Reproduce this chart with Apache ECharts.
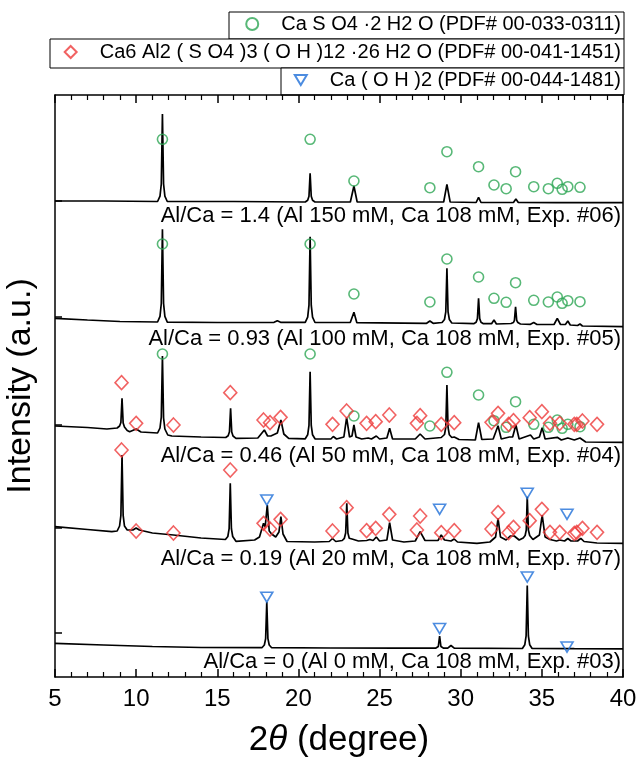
<!DOCTYPE html>
<html>
<head>
<meta charset="utf-8">
<script src="https://cdn.jsdelivr.net/npm/echarts@6/dist/echarts.min.js"></script>
<style>
html,body{margin:0;padding:0;background:#fff;}
#chart{width:640px;height:761px;}
</style>
</head>
<body>
<div id="chart"></div>
<script>
// ---- Data (2θ in degrees, intensity in stacked arbitrary units) ----
const traceNames = [
  'Al/Ca = 1.4 (Al 150 mM, Ca 108 mM, Exp. #06)',
  'Al/Ca = 0.93 (Al 100 mM, Ca 108 mM, Exp. #05)',
  'Al/Ca = 0.46 (Al 50 mM, Ca 108 mM, Exp. #04)',
  'Al/Ca = 0.19 (Al 20 mM, Ca 108 mM, Exp. #07)',
  'Al/Ca = 0 (Al 0 mM, Ca 108 mM, Exp. #03)'
];

const exp06 = [[5,476],[8,476],[11.32,475.5],[11.47,480.8],[11.55,493],[11.62,563],[11.69,493],[11.77,480.8],[11.92,475.5],[16,475.5],[20.42,475],[20.57,476.7],[20.65,480.7],[20.72,503.7],[20.79,480.7],[20.87,476.7],[21.02,475],[23.2,475],[23.42,491],[23.62,475],[28.95,475],[29.15,492.7],[29.35,475],[30.95,474.5],[31.1,479.7],[31.25,474.5],[32.0,474.5],[32.1,476],[32.2,474.5],[33.25,474.5],[33.4,478],[33.55,474.5],[35.9,474.3],[36.0,475.5],[36.1,474.3],[36.55,474.3],[36.65,475.2],[36.75,474.3],[40,474.3]];

const exp05 = [[5,358.7],[7,357],[9,355.5],[11.32,355],[11.47,360.6],[11.55,373.5],[11.62,447.7],[11.69,373.5],[11.77,360.6],[11.92,354.8],[15,354.5],[18.5,354.7],[18.7,356.3],[18.9,354.7],[20.42,354.7],[20.57,359.8],[20.65,371.8],[20.72,440.3],[20.79,371.8],[20.87,359.8],[21.02,354.5],[23.2,354.7],[23.42,364.7],[23.6,354.3],[27.9,353.7],[28.1,356],[28.3,353.7],[28.85,354.5],[29.0,357.5],[29.08,365.2],[29.15,408.7],[29.22,365.2],[29.3,357.5],[29.45,354],[30.8,353.3],[30.95,354.8],[31.03,358.4],[31.1,378.7],[31.17,358.4],[31.25,354.8],[31.4,353.3],[31.9,353.3],[32.05,357],[32.2,353],[33.1,353.5],[33.25,354.5],[33.31,356.7],[33.38,370.3],[33.45,356.7],[33.52,354.5],[33.68,353],[34.3,352.7],[34.5,354.5],[34.7,352.5],[35.75,352.5],[35.95,358.7],[36.15,352.5],[36.45,352.5],[36.6,356],[36.75,352],[37.2,351.5],[37.35,353],[37.5,351],[40,350.3]];

const exp04 = [[5,251],[7,249.5],[8.2,248],[8.83,249],[8.98,251],[9.06,254.5],[9.13,278.7],[9.2,254],[9.28,250],[9.45,246.5],[9.6,245.3],[10.0,248],[10.3,245],[11.32,244],[11.47,249],[11.55,260],[11.62,321],[11.69,259],[11.77,248],[11.95,242],[12.2,241],[14,240],[15.52,239.5],[15.67,241.3],[15.75,245.3],[15.82,268.7],[15.89,245],[15.97,241],[16.15,238.7],[17.5,239],[17.9,247],[18.1,241],[18.3,241],[18.7,244],[18.92,257],[19.1,243],[19.4,238.7],[20.42,238.2],[20.57,242.2],[20.65,251.6],[20.72,305.3],[20.79,251.6],[20.87,242.2],[21.02,238.2],[22.0,238],[22.15,240.5],[22.35,238],[22.8,240],[22.97,259.3],[23.15,240],[23.3,241],[23.42,252],[23.55,240],[23.9,238],[24.3,239],[24.5,238],[24.8,241],[25.0,238],[25.45,239],[25.62,248.7],[25.8,238],[27.2,238],[27.5,243],[27.8,238],[28.8,239.5],[28.92,240],[29.0,242.5],[29.08,249.6],[29.15,292],[29.22,249.6],[29.3,242.2],[29.45,239.5],[29.6,240],[29.9,237.5],[30.9,237],[31.1,254.3],[31.3,237.5],[32.0,238],[32.3,251.3],[32.5,238],[33.0,240],[33.2,240],[33.4,252],[33.6,238],[34.3,242],[34.5,238],[34.85,240],[35.02,249.3],[35.2,238],[35.95,239.7],[36.2,237],[36.6,239],[37.0,237],[37.35,239],[37.7,235],[40,234.7]];

const exp07 = [[5,150.3],[7,147.5],[8.5,145.3],[8.83,146],[8.98,151],[9.06,161.6],[9.13,222],[9.2,161.6],[9.28,151],[9.45,147],[9.8,147],[10.0,149],[10.2,147],[11,144],[12.3,142],[14,139],[15.5,137.5],[15.65,140.5],[15.73,148.3],[15.8,193.7],[15.87,148.3],[15.95,140.5],[16.15,135.7],[17.3,137],[17.6,140],[17.85,153.7],[17.95,150],[18.08,172],[18.2,146],[18.35,143],[18.6,140],[18.8,145],[18.92,160.3],[19.05,143],[19.3,135.5],[21,135],[21.9,135.5],[22.1,138.5],[22.3,135.5],[22.7,136.5],[22.83,138.7],[22.91,144],[22.98,173.7],[23.05,144],[23.13,138.7],[23.3,138],[23.4,139],[23.7,136],[24.2,136.5],[24.4,137.5],[24.6,136.5],[24.8,140],[25.0,136],[25.45,137],[25.62,154.3],[25.8,137],[26.5,135],[27.2,136],[27.5,145.3],[27.8,136.5],[28.6,136.5],[28.8,142],[29.0,137],[29.4,136],[29.6,138],[29.8,135],[31.0,133.7],[31.8,135],[32.15,140],[32.3,158.7],[32.45,140],[32.8,137],[33.05,141],[33.3,141],[33.6,137],[33.85,139],[33.97,141.5],[34.04,147],[34.1,180.3],[34.17,147],[34.25,141.5],[34.45,137.5],[34.85,142],[35.02,162],[35.2,140],[35.5,137.5],[35.9,136],[36.1,137],[36.4,136],[36.6,138.5],[36.8,136],[37.2,136],[37.4,138.7],[37.6,135.5],[38.4,134],[40,133.7]];

const exp03 = [[5,33.6],[8,32],[11,30.5],[14,29.5],[17.75,29.3],[17.9,32],[17.98,38.4],[18.05,75],[18.12,38.4],[18.2,32],[18.35,29.3],[22,29],[26,28.8],[28.45,28.8],[28.62,30.5],[28.7,41],[28.78,30.5],[28.95,28.8],[29.2,28.8],[29.4,31.5],[29.6,28.8],[33.8,28.5],[33.95,32.3],[34.03,41.1],[34.1,91.5],[34.17,41.1],[34.25,32.3],[34.4,28.5],[37,28.3],[40,28.2]];

// Reference-pattern markers
const gypsumPos = [11.62,20.72,23.42,28.1,29.15,31.1,32.05,32.8,33.38,34.5,35.4,35.95,36.25,36.6,37.35];
const gypsum06 = [537.7,537.7,496,489.3,525.3,510.3,492,488.3,505.3,490.3,488.3,493.7,487.7,490.3,489.7];
const gypsum05 = [433,433,383,375,418,400,378.7,374.7,394.3,376.7,375,380,373.7,376.3,375.3];
const gypsum04 = [323,323,261,251,304.7,282,256.3,249.7,275.3,252.7,249.7,257,248.7,252.7,250.3];

const ettPos = [9.1,10.0,12.3,15.8,17.85,18.25,18.9,22.1,22.97,24.2,24.76,25.6,27.3,27.5,28.8,29.6,31.9,32.3,32.95,33.25,34.25,35.0,35.5,36.1,37.0,37.15,37.5,38.4];
const ett04 = [294.3,253.7,252,284.3,257,254.3,259.7,252.7,266,253.7,255.3,262,253.7,261.3,252.7,254.3,254.7,263.7,252.7,256.3,259.3,265.3,253.7,253.7,252.7,252.7,256,252.7];
const ett07 = [227,146,144,207,153.7,148,157.7,146,169.3,146.3,148.7,162.7,147,161,144.3,146.3,148,164.3,144.3,149.7,156.3,167.7,144.7,144.7,143.7,144.7,148.7,144.7];

const chPos = [18.05,28.7,34.1,36.55];
const ch07 = [177,167.7,183.7,162.7];
const ch03 = [79.8,48.5,100,30];

const legendNames = [
  'Ca S O4 \u00B72 H2 O (PDF# 00-033-0311)',
  'Ca6 Al2 ( S O4 )3 ( O H )12 \u00B726 H2 O (PDF# 00-041-1451)',
  'Ca ( O H )2 (PDF# 00-044-1481)'
];

const xTicks = {min:5, max:40, interval:5};
const yTickValues = [44,149,252,360,476];

// ---- Build ----
const chart = echarts.init(document.getElementById('chart'), null, {renderer:'canvas'});
const traces = [exp06, exp05, exp04, exp07, exp03];
const pair = (pos, vals) => pos.map((p,i)=>[p, vals[i]]);

const GREEN = '#2EA655', RED = '#EE3B3B', BLUE = '#1F6FD8';
const FONT = 'Arial, "Liberation Sans", sans-serif';
const DOWN_TRIANGLE = 'path://M0,0L12,0L6,10Z';

const series = traces.map((d,i)=>({
  name: traceNames[i], type:'line', data:d, showSymbol:false, symbol:'none',
  lineStyle:{color:'#000', width:1.7}, z:2, silent:true, animation:false
}));
series.push({
  name: legendNames[0], type:'scatter', symbol:'circle', symbolSize:10,
  itemStyle:{color:'rgba(0,0,0,0)', borderColor:GREEN, borderWidth:1.6},
  data: [].concat(pair(gypsumPos,gypsum06), pair(gypsumPos,gypsum05), pair(gypsumPos,gypsum04)), z:3, animation:false
});
series.push({
  name: legendNames[1], type:'scatter', symbol:'diamond', symbolSize:[13,14],
  itemStyle:{color:'rgba(0,0,0,0)', borderColor:RED, borderWidth:1.6},
  data: [].concat(pair(ettPos,ett04), pair(ettPos,ett07)), z:3, animation:false
});
series.push({
  name: legendNames[2], type:'scatter', symbol:DOWN_TRIANGLE, symbolSize:[12,10],
  itemStyle:{color:'rgba(0,0,0,0)', borderColor:BLUE, borderWidth:1.6},
  data: [].concat(pair(chPos,ch07), pair(chPos,ch03)), z:3, animation:false
});

const legendBase = {
  orient:'horizontal', right:19, padding:0, itemWidth:12, itemHeight:12,
  selectedMode:false,
  textStyle:{fontSize:20, fontFamily:FONT, color:'#000', padding:[0,0,0,18]}
};
const legendTops = [14, 42, 70];
const legendData = [[{name:legendNames[0]}],[{name:legendNames[1]}],[{name:legendNames[2]}]];

const option = {
  backgroundColor:'#fff',
  animation:false,
  grid:{left:55, right:17, top:95, bottom:84, containLabel:false, outerBoundsMode:'none'},
  legend: legendNames.map((n,i)=>Object.assign({}, legendBase, {data:legendData[i], top:legendTops[i]})),
  graphic:[
    {type:'rect', shape:{x:229, y:12, width:395, height:27}, style:{fill:'#fff', stroke:'#000', lineWidth:1}, z:-1},
    {type:'rect', shape:{x:50, y:39, width:574, height:29}, style:{fill:'#fff', stroke:'#000', lineWidth:1}, z:-1},
    {type:'rect', shape:{x:281, y:68, width:343, height:27}, style:{fill:'#fff', stroke:'#000', lineWidth:1}, z:-1}
  ].concat(traceNames.map((t,i)=>({
    type:'text', right:19, top:[205,328,445,548,651][i], z:10,
    style:{text:t, fontSize:22, fontFamily:FONT, fill:'#000'}
  }))),
  xAxis:[{
    type:'value', position:'bottom', min:xTicks.min, max:xTicks.max, interval:xTicks.interval,
    axisLine:{show:true, onZero:false, lineStyle:{color:'#000', width:1.5}},
    axisTick:{show:true, inside:true, length:8, lineStyle:{color:'#000', width:1.5}},
    minorTick:{show:true, splitNumber:5, length:5, lineStyle:{color:'#000', width:1.2}},
    axisLabel:{fontSize:24, fontFamily:FONT, color:'#000', margin:10},
    splitLine:{show:false},
    name:'2{i|\u03B8} (degree)', nameLocation:'middle', nameGap:46,
    nameTextStyle:{fontSize:35, fontFamily:FONT, color:'#000',
      rich:{i:{fontSize:35, fontFamily:FONT, fontStyle:'italic', color:'#000'}}}
  },{
    type:'value', position:'top', min:xTicks.min, max:xTicks.max, interval:xTicks.interval,
    axisLine:{show:true, onZero:false, lineStyle:{color:'#000', width:1.5}},
    axisTick:{show:true, inside:true, length:8, lineStyle:{color:'#000', width:1.5}},
    minorTick:{show:true, splitNumber:5, length:5, lineStyle:{color:'#000', width:1.2}},
    axisLabel:{show:false}, splitLine:{show:false}
  }],
  yAxis:[{
    type:'value', position:'left', min:0, max:582,
    axisLine:{show:true, onZero:false, lineStyle:{color:'#000', width:1.5}},
    axisTick:{show:true, inside:true, length:7, customValues:yTickValues, lineStyle:{color:'#000', width:1.5}},
    axisLabel:{show:false}, splitLine:{show:false},
    name:'Intensity (a.u.)', nameLocation:'middle', nameGap:17,
    nameTextStyle:{fontSize:34, fontFamily:FONT, color:'#000'}
  },{
    type:'value', position:'right', min:0, max:582,
    axisLine:{show:true, onZero:false, lineStyle:{color:'#000', width:1.5}},
    axisTick:{show:false}, axisLabel:{show:false}, splitLine:{show:false}
  }],
  series: series
};
chart.setOption(option);
</script>
</body>
</html>
